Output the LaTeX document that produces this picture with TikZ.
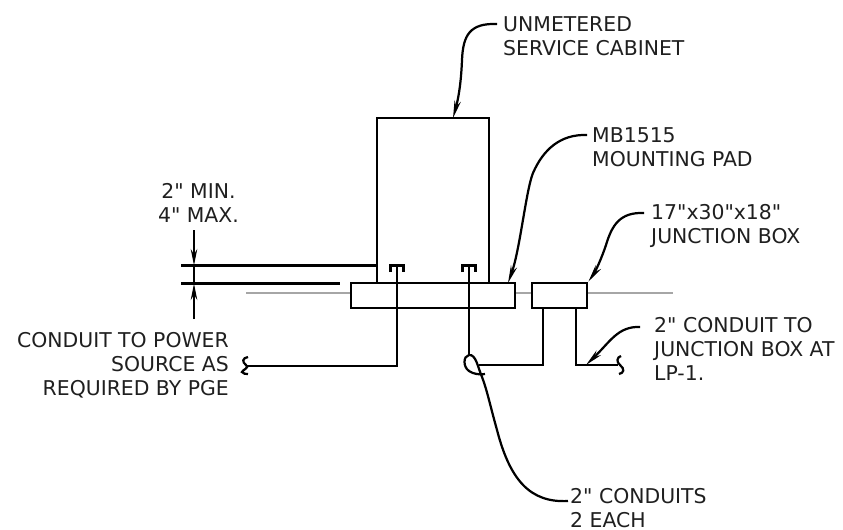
\documentclass[tikz,border=0pt]{standalone}
\usepackage{fontspec}
\newfontfamily\lblfont{DejaVu Sans}
\usetikzlibrary{arrows.meta}
\tikzset{
  box/.style={draw,line width=2.3pt,inner sep=0pt},
  lbl/.style={inner sep=0pt,text=black!88,font=\lblfont\fontsize{17.4}{20.6}\selectfont},
  heavy/.style={line width=2.3pt},
  grade/.style={line width=1pt,black!35},
  leader/.style={line width=1.9pt,-{Stealth[length=15pt,width=5.5pt]}},
  dimarrow/.style={line width=1.9pt,-{Stealth[length=14pt,width=5.5pt]}}
}
\begin{document}
\begin{tikzpicture}
  [x=.03cm,y=-.03cm]
  \useasboundingbox (0,0) rectangle (843,529);
  % grade line
  \coordinate (g1) at (246,293);
  \coordinate (g2) at (673,293);
  % boxes
  \node[box,minimum width=3.36cm,minimum height=4.95cm] (cabinet) at (433,200.5) {};
  \node[box,minimum width=4.92cm,minimum height=.75cm] (pad) at (433,295.5) {};
  \node[box,minimum width=1.65cm,minimum height=.75cm] (jbox) at (559.5,295.5) {};
  \draw[grade] (g1) -- (pad.west |- g1);
  \draw[grade] (pad.east |- g1) -- (jbox.west |- g1);
  \draw[grade] (jbox.east |- g1) -- (g2);
  % labels
  \node[lbl,anchor=west,align=left] (unmetered) at (503,36) {UNMETERED\\SERVICE CABINET};
  \node[lbl,anchor=west,align=left] (mounting) at (592,147) {MB1515\\MOUNTING PAD};
  \node[lbl,anchor=west,align=left] (junction) at (651,226) {17"x30"x18"\\JUNCTION BOX};
  \node[lbl,align=center] (minmax) at (198.5,203) {2" MIN.\\4" MAX.};
  \node[lbl,anchor=east,align=right] (power) at (229,365) {CONDUIT TO POWER\\SOURCE AS\\REQUIRED BY PGE};
  \node[lbl,anchor=west,align=left] (lp) at (654,349) {2" CONDUIT TO\\JUNCTION BOX AT\\LP-1.};
  \node[lbl,anchor=west,align=left] (conduits) at (570,508) {2" CONDUITS\\2 EACH};
  % dimension
  \coordinate (d1) at (181,265.5);
  \coordinate (d2) at (378,265.5);
  \coordinate (d3) at (181,283.5);
  \coordinate (d4) at (340,283.5);
  \coordinate (a1) at (194,230);
  \coordinate (a2) at (194,265.5);
  \coordinate (a3) at (194,319);
  \coordinate (a4) at (194,283.5);
  \foreach \from/\to in {d1/d2,d3/d4}
    \draw[heavy] (\from) -- (\to);
  \foreach \from/\to in {a1/a2,a3/a4}
    \draw[dimarrow] (\from) -- (\to);
  \draw[line width=1.9pt] (a2) -- (a4);
  % conduits
  \coordinate (c1) at (397,265);
  \coordinate (c2) at (469,265);
  \coordinate (s1) at (247,366);
  \coordinate (s2) at (618,365);
  \draw[heavy] (c1) -- (397,366) -- (s1);
  \draw[heavy] (c2) -- (469,356);
  \draw[heavy] (479,365) -- (543,365) -- (543,308);
  \draw[heavy] (576,308) -- (576,365) -- (s2);
  \foreach \x in {397,469}
    \draw[line width=2pt] (\x-6.5,272) -- (\x-6.5,265.5) -- (\x+6.5,265.5) -- (\x+6.5,272);
  % break marks
  \draw[line width=1.9pt] (248,357) .. controls (242,358) and (242,362) .. (246,365)
    .. controls (250,368) and (242,370) .. (242,372) .. controls (243,374) and (246,374) .. (248,374);
  \draw[line width=1.9pt] (621,356) .. controls (617,357) and (616,362) .. (620,365)
    .. controls (625,369) and (624,373) .. (619,374);
  % leaders
  \coordinate (l1) at (497,24);
  \coordinate (t1) at (453,118);
  \coordinate (l2) at (587,135);
  \coordinate (t2) at (508,283);
  \coordinate (l3) at (644,213);
  \coordinate (l4) at (640,327);
  \coordinate (t4) at (586,365);
  \coordinate (l5) at (568,501);
  \draw[leader] (l1) .. controls (470,23) and (463,35) .. (462,60)
    .. controls (461,85) and (458,100) .. (t1);
  \draw[leader] (l2) .. controls (560,134) and (543,150) .. (533,173)
    .. controls (526,190) and (520,250) .. (t2);
  \draw[leader] (l3) .. controls (620,212) and (612,225) .. (606,245)
    .. controls (601,260) and (595,272) .. (jbox.north east);
  \draw[leader] (l4) .. controls (618,326) and (610,342) .. (t4);
  \draw[line width=1.9pt] (l5) .. controls (530,503) and (510,480) .. (497,430)
    .. controls (490,405) and (487,390) .. (482,377)
    .. controls (478,368) and (476,354) .. (469,355)
    .. controls (463,356) and (463,367) .. (469,371)
    .. controls (473,374) and (480,375) .. (485,374);
\end{tikzpicture}
\end{document}
